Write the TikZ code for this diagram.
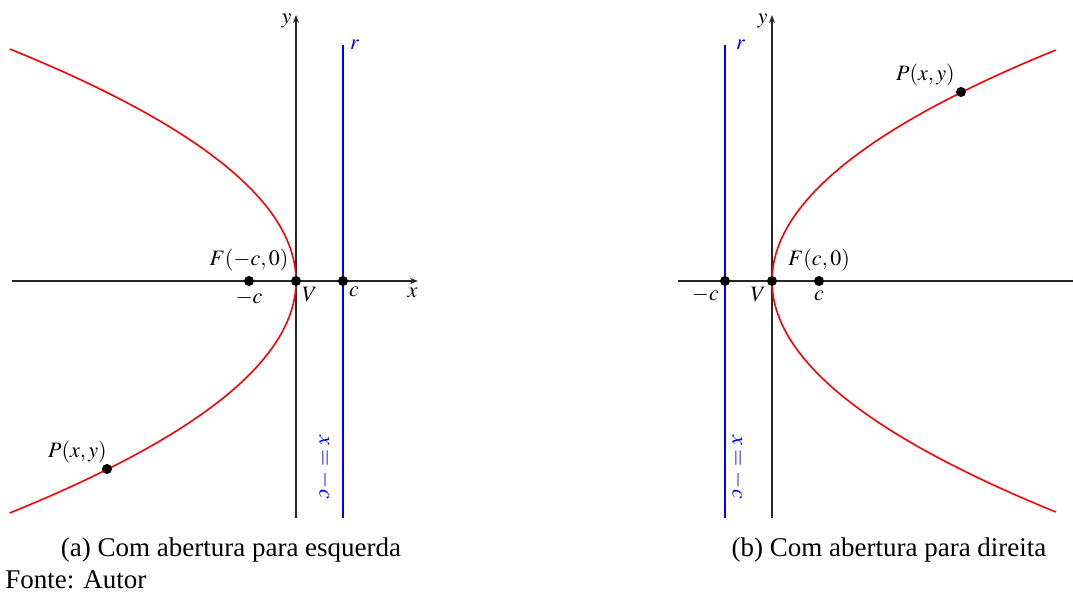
\documentclass[tikz,border=0pt]{standalone}
\usepackage{mathptmx}
\usepackage[no-math]{fontspec}
\setmainfont{Liberation Serif}
\usetikzlibrary{arrows.meta,positioning}

\begin{document}
\begin{tikzpicture}[x=0.5pt, y=-0.5pt,
    eixo/.style={draw=black!85, line width=0.6pt, -{Stealth[length=4pt,width=3pt]}},
    parab/.style={draw=red, line width=0.8pt},
    diretriz/.style={draw=blue, line width=1pt},
    ponto/.style={circle, fill=black, inner sep=0pt, minimum size=5pt},
    rot/.style={font=\fontsize{11}{13}\selectfont, inner sep=1pt},
    legenda/.style={font=\fontsize{13.5}{16}\selectfont, inner sep=0pt}
  ]
  \useasboundingbox (0,0) rectangle (1073,592);

  % (a) abertura para esquerda
  \coordinate (xA0) at (12,281);  \coordinate (xA1) at (418,281);
  \coordinate (yA0) at (296,518); \coordinate (yA1) at (296,15);
  \coordinate (rA0) at (343,518); \coordinate (rA1) at (343,45);
  \draw[eixo] (xA0) -- (xA1) node[rot, below left=2pt and -1pt] {$x$};
  \draw[eixo] (yA0) -- (yA1) node[rot, left=1pt, yshift=-3pt] {$y$};
  \draw[diretriz] (rA0) -- (rA1) node[rot, right=2pt, text=blue] {$r$};
  \draw[parab] plot[domain=-232:232, samples=120, smooth] ({296-(\x/188)*\x}, {281+\x});
  \node[rot, text=blue, rotate=-90] (eqA) at (325,467) {$x=-c$};

  \node[ponto] (FA) at (249,281) {};
  \node[ponto] (VA) at (296,281) {};
  \node[ponto] (cA) at (343,281) {};
  \node[ponto] (PA) at (107,469) {};
  \node[rot, above=1pt of FA] {$F(-c,0)$};
  \node[rot, below=1pt of FA] {$-c$};
  \node[rot, below right=0pt of VA] {$V$};
  \node[rot, below right=0pt of cA] {$c$};
  \node[rot, above left=0pt and -3pt of PA] {$P(x,y)$};

  % (b) abertura para direita
  \coordinate (xB0) at (678,281); \coordinate (xB1) at (1081,281);
  \coordinate (yB0) at (772,518); \coordinate (yB1) at (772,15);
  \coordinate (rB0) at (725,518); \coordinate (rB1) at (725,45);
  \draw[eixo] (xB0) -- (xB1);
  \draw[eixo] (yB0) -- (yB1) node[rot, left=1pt, yshift=-3pt] {$y$};
  \draw[diretriz] (rB0) -- (rB1) node[rot, right=4pt, text=blue] {$r$};
  \draw[parab] plot[domain=-231:231, samples=120, smooth] ({772+(\x/188)*\x}, {281+\x});
  \node[rot, text=blue, rotate=-90] (eqB) at (738,467) {$x=-c$};

  \node[ponto] (cB) at (725,281) {};
  \node[ponto] (VB) at (772,281) {};
  \node[ponto] (FB) at (819,281) {};
  \node[ponto] (PB) at (961,92) {};
  \node[rot, below left=0pt of cB] {$-c$};
  \node[rot, below left=0pt of VB] {$V$};
  \node[rot, above=1pt of FB] {$F(c,0)$};
  \node[rot, below=1pt of FB] {$c$};
  \node[rot, above left=0pt of PB] {$P(x,y)$};

  \node[legenda] (capA) at (231,550) {(a) Com abertura para esquerda};
  \node[legenda] (capB) at (889,550) {(b) Com abertura para direita};
  \node[legenda, anchor=west] (fonte) at (5,580) {Fonte: Autor};
\end{tikzpicture}
\end{document}
